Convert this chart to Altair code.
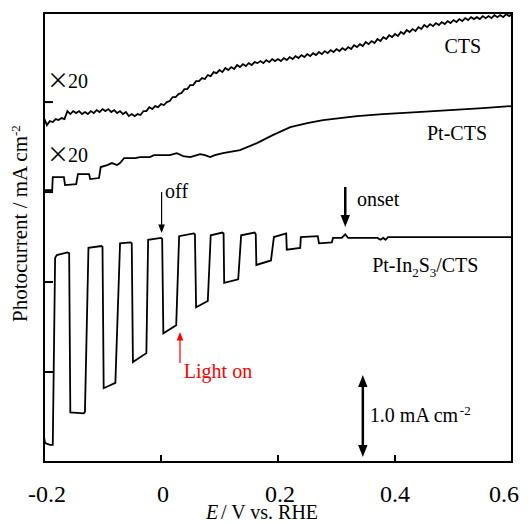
import altair as alt
import pandas as pd

# ---------------- data ----------------
# CTS (x20), sampled every 5 mV
cts_e = [round(-0.2 + 0.005 * i, 3) for i in range(161)]
cts_j = [
    3.822, 3.744, 3.789, 3.778, 3.811, 3.800, 3.822, 3.811, 3.900, 3.867,
    3.900, 3.878, 3.900, 3.867, 3.889, 3.867, 3.900, 3.878, 3.911, 3.889,
    3.922, 3.900, 3.922, 3.889, 3.911, 3.878, 3.900, 3.867, 3.889, 3.844,
    3.867, 3.844, 3.867, 3.856, 3.900, 3.900, 3.944, 3.922, 3.956, 3.944,
    3.978, 3.967, 4.000, 4.011, 4.056, 4.056, 4.089, 4.100, 4.144, 4.144,
    4.189, 4.189, 4.233, 4.233, 4.267, 4.256, 4.300, 4.289, 4.333, 4.322,
    4.356, 4.333, 4.378, 4.356, 4.389, 4.367, 4.411, 4.389, 4.422, 4.400,
    4.433, 4.411, 4.444, 4.433, 4.456, 4.433, 4.467, 4.444, 4.478, 4.456,
    4.478, 4.456, 4.489, 4.467, 4.500, 4.478, 4.511, 4.489, 4.522, 4.500,
    4.533, 4.511, 4.544, 4.522, 4.556, 4.533, 4.567, 4.544, 4.578, 4.556,
    4.589, 4.567, 4.600, 4.578, 4.611, 4.589, 4.633, 4.611, 4.644, 4.622,
    4.667, 4.644, 4.678, 4.656, 4.700, 4.678, 4.722, 4.700, 4.744, 4.722,
    4.756, 4.733, 4.778, 4.756, 4.800, 4.778, 4.811, 4.789, 4.833, 4.811,
    4.856, 4.833, 4.867, 4.844, 4.878, 4.856, 4.889, 4.867, 4.900, 4.878,
    4.911, 4.889, 4.922, 4.900, 4.933, 4.911, 4.944, 4.922, 4.944, 4.922,
    4.956, 4.933, 4.956, 4.933, 4.967, 4.944, 4.967, 4.944, 4.978, 4.956,
    4.978,
]

# Pt-CTS (x20)
ptcts_e = [-0.200, -0.186, -0.185, -0.166, -0.164, -0.145, -0.142, -0.123, -0.121, -0.106,
           -0.103, -0.092, -0.084, -0.075, -0.070, -0.063, -0.044, -0.036, -0.019, -0.012,
           0.015, 0.027, 0.038, 0.050, 0.067, 0.075, 0.084, 0.092, 0.106, 0.135,
           0.164, 0.191, 0.221, 0.250, 0.277, 0.306, 0.335, 0.379, 0.438, 0.494,
           0.550, 0.600]
ptcts_j = [3.022, 3.022, 3.167, 3.167, 3.078, 3.089, 3.200, 3.200, 3.144, 3.156,
           3.278, 3.300, 3.322, 3.300, 3.322, 3.378, 3.378, 3.389, 3.389, 3.411,
           3.411, 3.433, 3.400, 3.389, 3.422, 3.411, 3.389, 3.411, 3.433, 3.467,
           3.544, 3.633, 3.722, 3.767, 3.800, 3.822, 3.844, 3.867, 3.889, 3.911,
           3.933, 3.956]

# Pt-In2S3/CTS (chopped light)
ptin_e = [-0.200, -0.198, -0.190, -0.185, -0.181, -0.178, -0.160, -0.157, -0.155, -0.132,
          -0.130, -0.124, -0.102, -0.100, -0.098, -0.078, -0.070, -0.052, -0.050, -0.048,
          -0.025, -0.022, 0.000, 0.002, 0.004, 0.026, 0.031, 0.056, 0.058, 0.060,
          0.080, 0.085, 0.105, 0.107, 0.108, 0.132, 0.137, 0.160, 0.162, 0.163,
          0.188, 0.193, 0.214, 0.215, 0.238, 0.239, 0.268, 0.270, 0.292, 0.294,
          0.309, 0.315, 0.320, 0.340, 0.370, 0.375, 0.380, 0.384, 0.388, 0.600]
ptin_j = [0.28, 0.21, 0.19, 0.19, 2.27, 2.30, 2.33, 2.32, 0.55, 0.54,
          0.56, 2.38, 2.40, 2.39, 0.82, 0.88, 2.43, 2.44, 2.43, 1.11,
          1.21, 2.47, 2.49, 2.48, 1.43, 1.52, 2.51, 2.54, 2.53, 1.72,
          1.79, 2.52, 2.55, 2.54, 1.99, 2.03, 2.52, 2.55, 2.53, 2.19,
          2.24, 2.50, 2.54, 2.36, 2.38, 2.50, 2.51, 2.43, 2.44, 2.49,
          2.49, 2.53, 2.49, 2.49, 2.49, 2.47, 2.49, 2.47, 2.50, 2.50]

series_names = ["CTS", "Pt-CTS", "Pt-In2S3/CTS"]
x_tick_values = [-0.2, 0, 0.2, 0.4, 0.6]
x_tick_labels = ["-0.2", "0", "0.2", "0.4", "0.6"]
x_inner_ticks = [0, 0.2, 0.4]
y_inner_ticks = [1, 2, 3, 4]

# ---------------- chart ----------------
W, H = 468, 449
FONT = "Liberation Serif"

frames = []
for name, es, js in zip(series_names, [cts_e, ptcts_e, ptin_e], [cts_j, ptcts_j, ptin_j]):
    frames.append(pd.DataFrame({"series": name, "E": es, "J": js, "order": list(range(len(es)))}))
curves = pd.concat(frames, ignore_index=True)

xscale = alt.Scale(domain=[-0.2, 0.6], nice=False, zero=False)
yscale = alt.Scale(domain=[0, 4.99], nice=False, zero=False)
one = pd.DataFrame({"k": [0]})

lines = alt.Chart(curves).mark_line(color="black", strokeWidth=1.8, clip=True).encode(
    x=alt.X("E:Q", scale=xscale, axis=None),
    y=alt.Y("J:Q", scale=yscale, axis=None),
    detail="series:N",
    order="order:Q",
)

xt = alt.Chart(pd.DataFrame({"E": x_inner_ticks})).mark_rule(color="black", strokeWidth=2).encode(
    x=alt.X("E:Q", scale=xscale, axis=None), y=alt.value(H), y2=alt.value(H - 7))
yt = alt.Chart(pd.DataFrame({"J": y_inner_ticks})).mark_rule(color="black", strokeWidth=2).encode(
    y=alt.Y("J:Q", scale=yscale, axis=None), x=alt.value(0), x2=alt.value(9))

# tick labels: the two end labels are nudged inward as in the original
label_nudge = [3, 2, 2, 0, -8]
xlabel_layers = []
for v, lab, nd in zip(x_tick_values, x_tick_labels, label_nudge):
    xlabel_layers.append(
        alt.Chart(pd.DataFrame({"E": [v], "lab": [lab]})).mark_text(
            font=FONT, fontSize=24, color="black", align="center", baseline="alphabetic", dx=nd
        ).encode(x=alt.X("E:Q", scale=xscale, axis=None), y=alt.value(H + 40), text="lab:N")
    )


def txt(text, e, j, size=20, color="black", font=FONT, align="left", baseline="alphabetic",
        dx=0, dy=0, style="normal"):
    return alt.Chart(one).mark_text(
        text=text, font=font, fontSize=size, color=color, align=align, baseline=baseline,
        dx=dx, dy=dy, fontStyle=style).encode(x=alt.datum(e), y=alt.datum(j))


def ptxt(text, px, py, size=20, align="left", angle=0, style="normal"):
    return alt.Chart(one).mark_text(
        text=text, font=FONT, fontSize=size, color="black", align=align, baseline="alphabetic",
        angle=angle, fontStyle=style).encode(x=alt.value(px), y=alt.value(py))


def vline(e, j1, j2, color="black", width=1.2):
    return alt.Chart(one).mark_rule(color=color, strokeWidth=width).encode(
        x=alt.datum(e), y=alt.datum(j1), y2=alt.datum(j2))


DOWN = "M0,0L-0.7,-1.8L0.7,-1.8Z"
UP = "M0,0L-0.7,1.8L0.7,1.8Z"


def head(e, j, path, size, color="black"):
    return alt.Chart(one).mark_point(shape=path, size=size, filled=True, color=color,
                                     opacity=1, strokeWidth=0).encode(x=alt.datum(e), y=alt.datum(j))


layers = [
    lines, xt, yt, *xlabel_layers,
    # series labels
    txt("CTS", 0.516, 4.544, align="center"),
    txt("Pt-CTS", 0.506, 3.578, align="center"),
    txt("Pt-In", 0.361, 2.111),
    txt("2", 0.361, 2.111, size=13, dx=40, dy=5),
    txt("S", 0.361, 2.111, dx=46.5),
    txt("3", 0.361, 2.111, size=13, dx=57.6, dy=5),
    txt("/CTS", 0.361, 2.111, dx=64),
    # x20 marks
    txt("×", -0.195, 4.233, size=22, font="Noto Sans CJK JP", baseline="middle"),
    txt("20", -0.159, 4.156),
    txt("×", -0.195, 3.411, size=22, font="Noto Sans CJK JP", baseline="middle"),
    txt("20", -0.159, 3.333),
    # off arrow
    vline(0.001, 3.0, 2.6, width=1.2),
    head(0.001, 2.544, DOWN, 90),
    txt("off", 0.007, 2.933),
    # onset arrow
    vline(0.315, 3.056, 2.68, width=2.5),
    head(0.315, 2.611, DOWN, 180),
    txt("onset", 0.335, 2.844),
    # light on arrow
    vline(0.0325, 1.1, 1.4, color="red", width=1.2),
    head(0.0325, 1.444, UP, 90, color="red"),
    txt("Light on", 0.039, 0.933, color="red"),
    # scale bar
    vline(0.345, 0.9, 0.12, width=2.5),
    head(0.345, 0.967, UP, 180),
    head(0.345, 0.056, DOWN, 180),
    txt("1.0 mA cm", 0.357, 0.444),
    txt("-2", 0.357, 0.444, size=13, dx=90, dy=-7),
    # axis titles
    ptxt("Photocurrent / mA cm", -17, 216, size=21, align="center", angle=270),
    ptxt("-2", -24, 123, size=13, align="left", angle=270),
    ptxt("E", 162, 506, size=20, style="italic"),
    ptxt("/ V vs. RHE", 177, 506, size=20),
]

chart = alt.layer(*layers).properties(
    width=W, height=H,
    padding={"left": 36, "top": 5, "right": 11, "bottom": 62},
    autosize=alt.AutoSizeParams(type="none"),
).configure_view(stroke="black", strokeWidth=2)

chart.save("out.html", embed_options={"renderer": "svg", "actions": False})
